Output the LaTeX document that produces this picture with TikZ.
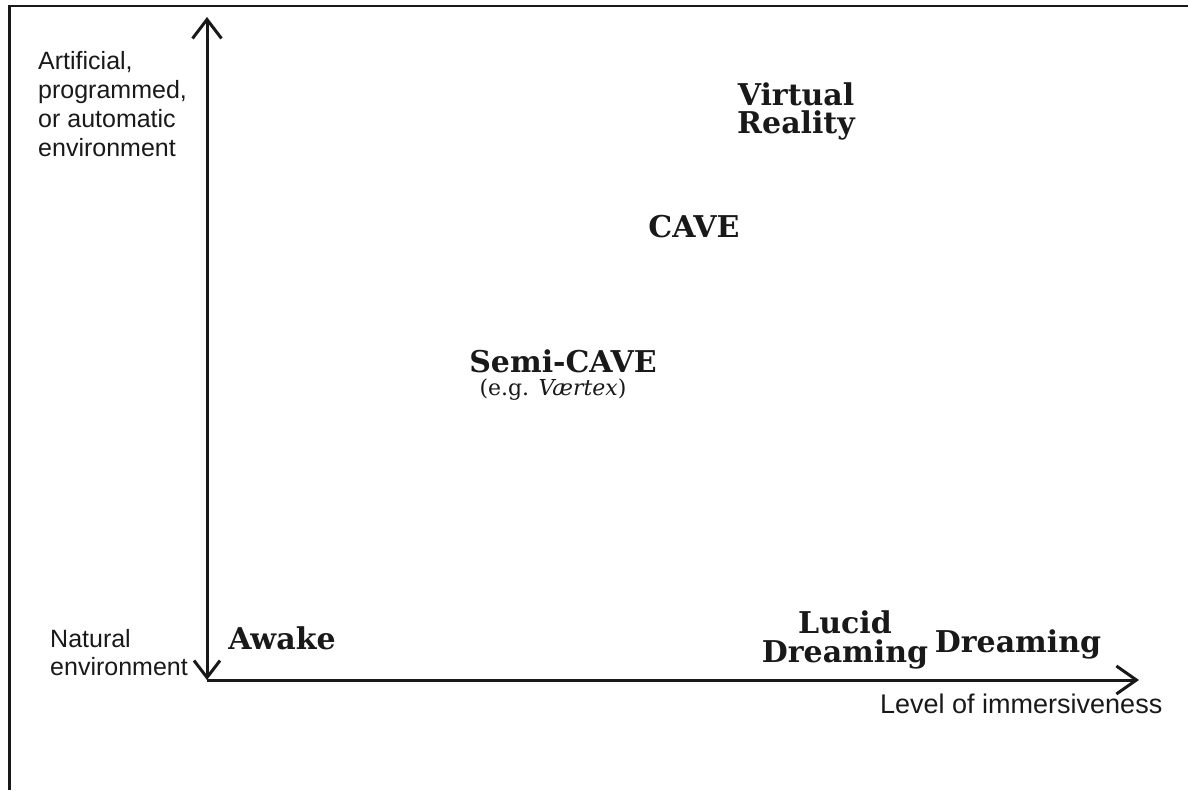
\documentclass[tikz,border=0pt]{standalone}
\usepackage{fontspec}
\setmainfont{DejaVu Serif}
\newfontfamily\labelfont{Liberation Sans}
\usetikzlibrary{arrows.meta}
\colorlet{ink}{black!90}
\begin{document}
\begin{tikzpicture}[x=1pt,y=-1pt,
  axis/.style={line width=3pt, draw=ink},
  sidelabel/.style={font=\labelfont\fontsize{25}{29}\selectfont, text=ink, inner sep=0pt, anchor=base west},
  place/.style={font=\bfseries\fontsize{30}{30}\selectfont, text=ink, inner sep=0pt, anchor=base},
  example/.style={font=\fontsize{22}{24}\selectfont, text=ink, inner sep=0pt, anchor=base},
]
\useasboundingbox (0,0) rectangle (1188,790);

% frame edges
\draw[ink, line width=1.2pt] (9,6) -- (1188,6);
\draw[ink, line width=2.5pt] (9,6) -- (24,6);
\draw[ink, line width=2.5pt] (1175,6) -- (1188,6);
\draw[ink, line width=3pt] (9,5) -- (9,790);

% axes
\coordinate (O) at (207,680);
\coordinate (ytip) at (207,17);
\coordinate (xtip) at (1139,680);
\draw[axis, {Straight Barb[length=17pt,width=26pt]}-{Straight Barb[length=19pt,width=29pt]}] (O) -- (ytip);
\draw[axis, -{Straight Barb[length=20pt,width=28pt]}] (O) -- (xtip);

% axis labels
\node[sidelabel] (art1) at (38,69) {Artificial,};
\node[sidelabel] (art2) at (38,98) {programmed,};
\node[sidelabel] (art3) at (38,127) {or automatic};
\node[sidelabel] (art4) at (38,156) {environment};
\node[sidelabel] (nat1) at (50,647) {Natural};
\node[sidelabel] (nat2) at (50,675) {environment};
\node[sidelabel, font=\labelfont\fontsize{27}{30}\selectfont] (level) at (880,713) {Level of immersiveness};

% states placed in the plane
\node[place] (vr1) at (796,105) {Virtual};
\node[place] (vr2) at (796,133) {Reality};
\node[place] (cave) at (694,237) {CAVE};
\node[place] (semi) at (563,372) {Semi-CAVE};
\node[example] (eg) at (553,395) {(e.g. \textit{Værtex})};
\node[place] (awake) at (282,649) {Awake};
\node[place] (lucid1) at (845,633) {Lucid};
\node[place] (lucid2) at (845,662) {Dreaming};
\node[place] (dream) at (1018,652) {Dreaming};
\end{tikzpicture}
\end{document}
